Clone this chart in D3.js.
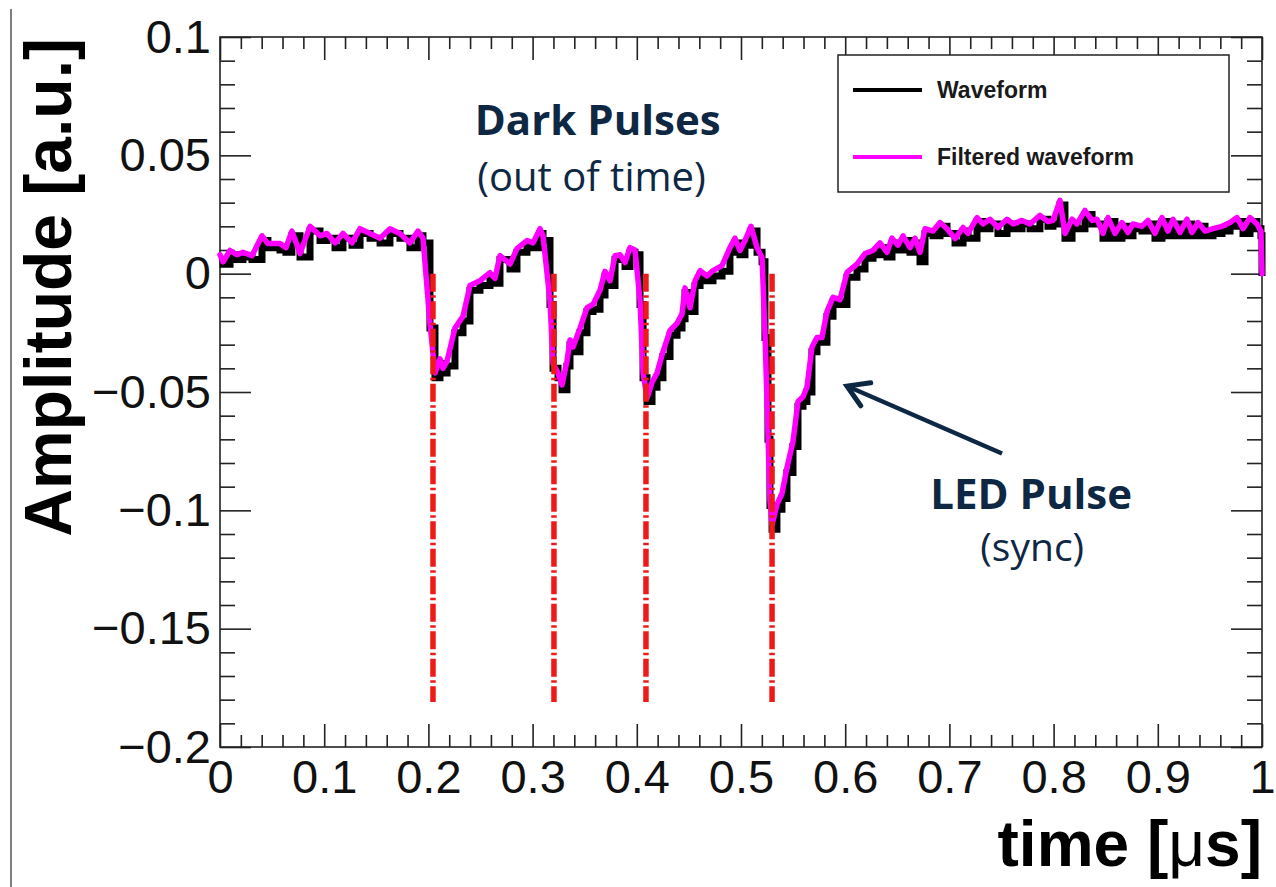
<!DOCTYPE html>
<html>
<head>
<meta charset="utf-8">
<script src="https://cdn.jsdelivr.net/npm/d3@7/dist/d3.min.js"></script>
<style>
  html, body { margin: 0; padding: 0; background: #ffffff; }
  svg { display: block; }
</style>
</head>
<body>
<script>
// ---------------- DATA ----------------
const timeUs = [
  0, 0.003, 0.0096, 0.0163, 0.022, 0.0307, 0.0403, 0.046, 0.0576, 0.0633,
  0.069, 0.0768, 0.0864, 0.096, 0.1027, 0.1104, 0.118, 0.1267, 0.1344, 0.144,
  0.1536, 0.1631, 0.1727, 0.1823, 0.19, 0.1948, 0.2015, 0.2063, 0.2111, 0.214,
  0.2179, 0.2255, 0.2332, 0.2399, 0.2495, 0.2591, 0.2639, 0.2687, 0.2783, 0.285,
  0.2946, 0.3004, 0.3071, 0.31, 0.3167, 0.3196, 0.3244, 0.3282, 0.333, 0.3359,
  0.3388, 0.3455, 0.3522, 0.358, 0.3647, 0.3695, 0.3743, 0.3791, 0.3839, 0.3887,
  0.3935, 0.3983, 0.4031, 0.406, 0.4098, 0.4146, 0.4194, 0.4251, 0.4319, 0.4386,
  0.4434, 0.4463, 0.4511, 0.4559, 0.4607, 0.4674, 0.4731, 0.4818, 0.4894, 0.4942,
  0.499, 0.5038, 0.5096, 0.5154, 0.5202, 0.523, 0.5259, 0.5278, 0.5298, 0.5345,
  0.5393, 0.5441, 0.5499, 0.5547, 0.5595, 0.5633, 0.5681, 0.5729, 0.5777, 0.5825,
  0.5883, 0.595, 0.6017, 0.6113, 0.619, 0.6267, 0.6334, 0.6401, 0.6449, 0.6507,
  0.6555, 0.6622, 0.667, 0.6718, 0.6766, 0.6843, 0.691, 0.6977, 0.7054, 0.7131,
  0.7179, 0.7265, 0.7322, 0.739, 0.7466, 0.7553, 0.761, 0.7697, 0.7774, 0.7869,
  0.7946, 0.7994, 0.8061, 0.8109, 0.8177, 0.8225, 0.8301, 0.8369, 0.8417, 0.8474,
  0.8522, 0.8589, 0.8656, 0.8714, 0.8762, 0.8848, 0.8906, 0.8973, 0.904, 0.9098,
  0.9146, 0.9213, 0.928, 0.9328, 0.9386, 0.9453, 0.953, 0.9616, 0.9693, 0.976,
  0.9818, 0.9885, 0.9952, 0.999, 1.0
];

const waveform = [
  0.006, 0.004, 0.008, 0.006, 0.007, 0.006, 0.014, 0.011, 0.010, 0.009,
  0.016, 0.007, 0.018, 0.014, 0.015, 0.011, 0.015, 0.012, 0.017, 0.015,
  0.013, 0.017, 0.015, 0.011, 0.016, 0.013, -0.023, -0.044, -0.038, -0.042,
  -0.039, -0.025, -0.020, -0.007, -0.005, -0.002, -0.004, 0.006, 0.002, 0.009,
  0.012, 0.011, 0.017, 0.014, -0.013, -0.040, -0.044, -0.049, -0.039, -0.030,
  -0.033, -0.025, -0.016, -0.015, -0.009, -0.001, -0.005, 0.006, 0.006, 0.003,
  0.009, 0.008, -0.013, -0.044, -0.054, -0.048, -0.044, -0.035, -0.026, -0.023,
  -0.019, -0.008, -0.016, -0.005, -0.001, -0.003, -0.001, 0.001, 0.009, 0.013,
  0.008, 0.012, 0.018, 0.009, 0.005, -0.027, -0.070, -0.098, -0.108, -0.0995,
  -0.095, -0.084, -0.073, -0.056, -0.054, -0.050, -0.033, -0.029, -0.029, -0.018,
  -0.012, -0.013, -0.0015, 0.002, 0.0065, 0.008, 0.011, 0.007, 0.013, 0.010,
  0.014, 0.009, 0.013, 0.005, 0.017, 0.016, 0.020, 0.017, 0.013, 0.018,
  0.015, 0.022, 0.019, 0.021, 0.017, 0.021, 0.019, 0.021, 0.019, 0.023,
  0.020, 0.021, 0.029, 0.015, 0.021, 0.019, 0.025, 0.021, 0.021, 0.015,
  0.022, 0.015, 0.020, 0.016, 0.019, 0.018, 0.021, 0.015, 0.022, 0.016,
  0.021, 0.016, 0.021, 0.016, 0.020, 0.016, 0.017, 0.018, 0.020, 0.022,
  0.017, 0.022, 0.019, 0.016, -0.001
];

const filteredWaveform = [
  0.008, 0.005, 0.0098, 0.008, 0.009, 0.0076, 0.016, 0.0127, 0.0127, 0.011,
  0.018, 0.0085, 0.020, 0.016, 0.017, 0.013, 0.017, 0.013, 0.019, 0.017,
  0.015, 0.019, 0.017, 0.013, 0.018, 0.015, -0.021, -0.042, -0.036, -0.040,
  -0.037, -0.023, -0.018, -0.005, -0.003, 0.0004, -0.002, 0.0076, 0.004, 0.0106,
  0.014, 0.013, 0.019, 0.016, -0.0115, -0.038, -0.042, -0.047, -0.037, -0.028,
  -0.031, -0.023, -0.0144, -0.013, -0.007, 0.001, -0.003, 0.0076, 0.008, 0.0047,
  0.011, 0.010, -0.0115, -0.042, -0.0525, -0.046, -0.042, -0.033, -0.024, -0.021,
  -0.017, -0.006, -0.0144, -0.003, 0.0013, -0.001, 0.0013, 0.0034, 0.011, 0.015,
  0.0098, 0.014, 0.020, 0.011, 0.0068, -0.025, -0.068, -0.096, -0.106, -0.0975,
  -0.093, -0.082, -0.071, -0.054, -0.052, -0.048, -0.031, -0.027, -0.027, -0.016,
  -0.010, -0.011, 0.0005, 0.004, 0.0085, 0.0098, 0.013, 0.009, 0.015, 0.012,
  0.016, 0.011, 0.015, 0.009, 0.019, 0.018, 0.0216, 0.019, 0.0148, 0.0195,
  0.017, 0.0237, 0.021, 0.023, 0.0195, 0.023, 0.021, 0.0225, 0.021, 0.0246,
  0.022, 0.0225, 0.031, 0.017, 0.023, 0.021, 0.0267, 0.0225, 0.023, 0.017,
  0.0237, 0.017, 0.0216, 0.0174, 0.021, 0.020, 0.0225, 0.017, 0.0237, 0.018,
  0.023, 0.0174, 0.023, 0.0174, 0.0216, 0.018, 0.019, 0.020, 0.0216, 0.0237,
  0.019, 0.0237, 0.021, 0.018, 0.000
];

// pulse-time markers (µs) and their vertical extent (a.u.)
const pulseTimes = [0.2044, 0.3205, 0.4088, 0.5298];
const markerTop = 0.0;
const markerBottom = -0.181;

const xTickValues = [0, 0.1, 0.2, 0.3, 0.4, 0.5, 0.6, 0.7, 0.8, 0.9, 1];
const xTickLabels = ["0", "0.1", "0.2", "0.3", "0.4", "0.5", "0.6", "0.7", "0.8", "0.9", "1"];
const yTickValues = [-0.2, -0.15, -0.1, -0.05, 0, 0.05, 0.1];
const yTickLabels = ["\u22120.2", "\u22120.15", "\u22120.1", "\u22120.05", "0", "0.05", "0.1"];

const legendLabels = ["Waveform", "Filtered waveform"];
const seriesColors = ["#000000", "#ff00ff"];

const xTitle = "time [";
const xTitleMu = "\u03bc";
const xTitleEnd = "s]";
const yTitle = "Amplitude [a.u.]";

// annotation anchors in data units
const darkTitle = { t: 0.3625, v: 0.0585, text: "Dark Pulses" };
const darkSub = { t: 0.3565, v: 0.0350, text: "(out of time)" };
const ledTitle = { t: 0.7785, v: -0.0995, text: "LED Pulse" };
const ledSub = { t: 0.7795, v: -0.1215, text: "(sync)" };
const arrowTail = { t: 0.7505, v: -0.0760 };
const arrowTip = { t: 0.6017, v: -0.0475 };

// ---------------- CHART ----------------
const W = 1276, H = 887;
const L = 220, R = 1262, T = 37, B = 747;

const svg = d3.select("body").append("svg")
  .attr("width", W).attr("height", H)
  .style("background", "#fff");

const x = d3.scaleLinear().domain([0, 1]).range([L, R]);
const y = d3.scaleLinear().domain([-0.2, 0.1]).range([B, T]);

const axisFont = "'Liberation Sans', Arial, Helvetica, sans-serif";
const annoFont = "'Open Sans', 'Noto Sans', sans-serif";
const navy = "#0e2844";

// faint slide border on the left
svg.append("line")
  .attr("x1", 11).attr("x2", 11).attr("y1", 9).attr("y2", H)
  .attr("stroke", "#555").attr("stroke-width", 1.5);

// frame
svg.append("rect")
  .attr("x", L).attr("y", T).attr("width", R - L).attr("height", B - T)
  .attr("fill", "none").attr("stroke", "#222").attr("stroke-width", 1.6);

const xMinor = d3.range(0, 1.0001, 0.02).filter(v => Math.abs(v * 10 - Math.round(v * 10)) > 1e-6);
const yMinor = d3.range(-0.2, 0.1001, 0.01).filter(v => Math.abs(v * 20 - Math.round(v * 20)) > 1e-6);

function styleAxis(g) {
  g.select(".domain").remove();
  g.selectAll(".tick line").attr("stroke", "#222").attr("stroke-width", 1.6);
  g.selectAll(".tick text")
    .attr("font-family", axisFont)
    .attr("font-size", 47)
    .attr("fill", "#111");
  g.attr("font-family", null).attr("font-size", null);
}

// bottom
svg.append("g").attr("transform", `translate(0,${B})`)
  .call(d3.axisBottom(x).tickValues(xTickValues).tickSize(-23).tickSizeOuter(0)
    .tickPadding(13).tickFormat((d, i) => xTickLabels[i]))
  .call(styleAxis);
svg.append("g").attr("transform", `translate(0,${B})`)
  .call(d3.axisBottom(x).tickValues(xMinor).tickSize(-12).tickSizeOuter(0).tickFormat(""))
  .call(styleAxis);
// top
svg.append("g").attr("transform", `translate(0,${T})`)
  .call(d3.axisTop(x).tickValues(xTickValues).tickSize(-23).tickSizeOuter(0).tickFormat(""))
  .call(styleAxis);
svg.append("g").attr("transform", `translate(0,${T})`)
  .call(d3.axisTop(x).tickValues(xMinor).tickSize(-12).tickSizeOuter(0).tickFormat(""))
  .call(styleAxis);
// left
svg.append("g").attr("transform", `translate(${L},0)`)
  .call(d3.axisLeft(y).tickValues(yTickValues).tickSize(-31).tickSizeOuter(0)
    .tickPadding(9).tickFormat((d, i) => yTickLabels[i]))
  .call(styleAxis);
svg.append("g").attr("transform", `translate(${L},0)`)
  .call(d3.axisLeft(y).tickValues(yMinor).tickSize(-15).tickSizeOuter(0).tickFormat(""))
  .call(styleAxis);
// right
svg.append("g").attr("transform", `translate(${R},0)`)
  .call(d3.axisRight(y).tickValues(yTickValues).tickSize(-31).tickSizeOuter(0).tickFormat(""))
  .call(styleAxis);
svg.append("g").attr("transform", `translate(${R},0)`)
  .call(d3.axisRight(y).tickValues(yMinor).tickSize(-15).tickSizeOuter(0).tickFormat(""))
  .call(styleAxis);

// axis titles
svg.append("text")
  .attr("transform", `translate(71,${T + 1}) rotate(-90)`)
  .attr("text-anchor", "end")
  .attr("font-family", axisFont).attr("font-weight", "bold")
  .attr("font-size", 66).attr("fill", "#000")
  .text(yTitle);

const xt = svg.append("text")
  .attr("x", R).attr("y", 866)
  .attr("text-anchor", "end")
  .attr("font-family", axisFont).attr("font-weight", "bold")
  .attr("font-size", 64).attr("fill", "#000");
xt.append("tspan").text(xTitle);
xt.append("tspan").attr("font-weight", "normal").text(xTitleMu);
xt.append("tspan").text(xTitleEnd);

// waveforms
const n = Math.min(timeUs.length, waveform.length, filteredWaveform.length);
const rawPts = d3.range(n).map(i => [timeUs[i], waveform[i]]);
const filtPts = d3.range(n).map(i => [timeUs[i], filteredWaveform[i]]);

const plot = svg.append("g");
plot.append("path")
  .datum(rawPts)
  .attr("fill", "none")
  .attr("stroke", seriesColors[0])
  .attr("stroke-width", 7)
  .attr("stroke-linejoin", "miter")
  .attr("d", d3.line().x(d => x(d[0])).y(d => y(d[1])).curve(d3.curveStepAfter));

plot.append("path")
  .datum(filtPts)
  .attr("fill", "none")
  .attr("stroke", seriesColors[1])
  .attr("stroke-width", 5.5)
  .attr("stroke-linejoin", "round")
  .attr("stroke-linecap", "round")
  .attr("d", d3.line().x(d => x(d[0])).y(d => y(d[1])));

// pulse markers
svg.append("g").selectAll("line")
  .data(pulseTimes)
  .join("line")
  .attr("x1", d => x(d)).attr("x2", d => x(d))
  .attr("y1", y(markerTop)).attr("y2", y(markerBottom))
  .attr("stroke", "#ee1a1a")
  .attr("stroke-width", 5.5)
  .attr("stroke-dasharray", "18,3.5,2.5,3.5");

// legend
const lg = svg.append("g");
lg.append("rect")
  .attr("x", 838).attr("y", 55).attr("width", 391).attr("height", 137)
  .attr("fill", "#fff").attr("stroke", "#222").attr("stroke-width", 1.5);
legendLabels.forEach((lab, i) => {
  const cy = 90 + i * 67;
  lg.append("line")
    .attr("x1", 853).attr("x2", 922).attr("y1", cy).attr("y2", cy)
    .attr("stroke", seriesColors[i]).attr("stroke-width", 4);
  lg.append("text")
    .attr("x", 937).attr("y", cy + 8)
    .attr("font-family", axisFont).attr("font-weight", "bold")
    .attr("font-size", 23).attr("fill", "#1a1a1a")
    .text(lab);
});

// annotations
function annText(a, size, weight) {
  svg.append("text")
    .attr("x", x(a.t)).attr("y", y(a.v))
    .attr("text-anchor", "middle")
    .attr("font-family", annoFont).attr("font-weight", weight)
    .attr("font-size", size).attr("fill", navy)
    .text(a.text);
}
annText(darkTitle, 42, 700);
annText(darkSub, 40, 400);
annText(ledTitle, 42, 700);
annText(ledSub, 39, 400);

// arrow
const ax0 = x(arrowTail.t), ay0 = y(arrowTail.v);
const ax1 = x(arrowTip.t), ay1 = y(arrowTip.v);
const ang = Math.atan2(ay1 - ay0, ax1 - ax0);
const headLen = 24, headAng = 0.55;
svg.append("line")
  .attr("x1", ax0).attr("y1", ay0).attr("x2", ax1 + 3 * Math.cos(ang + Math.PI)).attr("y2", ay1 + 3 * Math.sin(ang + Math.PI))
  .attr("stroke", navy).attr("stroke-width", 4.5);
svg.append("path")
  .attr("d", `M${ax1 - headLen * Math.cos(ang - headAng)},${ay1 - headLen * Math.sin(ang - headAng)} L${ax1},${ay1} L${ax1 - headLen * Math.cos(ang + headAng)},${ay1 - headLen * Math.sin(ang + headAng)}`)
  .attr("fill", "none").attr("stroke", navy).attr("stroke-width", 5)
  .attr("stroke-linejoin", "miter").attr("stroke-linecap", "round");
</script>
</body>
</html>
